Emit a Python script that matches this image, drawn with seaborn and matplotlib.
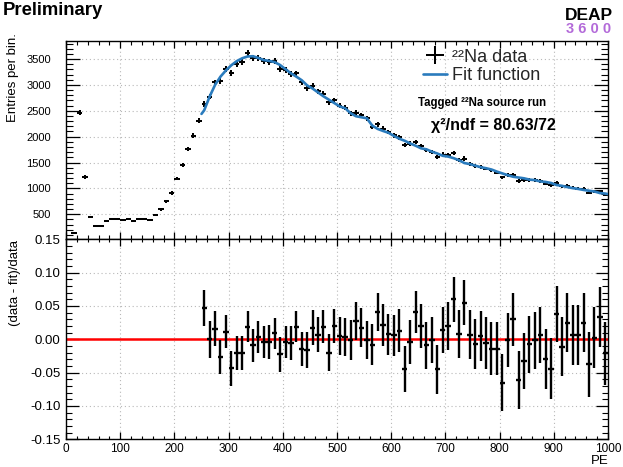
import numpy as np
import seaborn as sns
import matplotlib
matplotlib.use("Agg")
import matplotlib.pyplot as plt
from matplotlib.ticker import MultipleLocator, FormatStrFormatter

# ---------------- data ----------------
pe_centers = np.arange(15, 1000, 10)
counts = [147, 2460, 1220, 451, 268, 268, 362, 402, 405, 384, 405, 364, 416, 416, 398, 480,
          596, 751, 910, 1190, 1458, 1760, 2020, 2305,
          2630, 2776, 3048, 3080, 3316, 3237, 3398, 3444, 3620, 3521, 3525, 3455, 3450, 3470,
          3311, 3290, 3205, 3221, 3047, 2940, 2982, 2874, 2832, 2662, 2704, 2597, 2560, 2452,
          2462, 2416, 2355, 2195, 2242, 2156, 2090, 2027, 1985, 1840, 1865, 1900, 1810, 1740,
          1708, 1603, 1653, 1648, 1686, 1557, 1577, 1480, 1431, 1417, 1383, 1346, 1307, 1211,
          1254, 1263, 1140, 1157, 1161, 1158, 1143, 1093, 1058, 1108, 1039, 1051, 1011, 996,
          995, 920, 942, 940, 881]
count_err = [12, 50, 35, 21, 16, 16, 19, 20, 20, 20, 20, 19, 20, 20, 20, 22,
             24, 27, 30, 34, 38, 42, 45, 48,
             51, 53, 55, 55, 58, 57, 58, 59, 60, 59, 59, 59, 59, 59,
             58, 57, 57, 57, 55, 54, 55, 54, 53, 52, 52, 51, 51, 50,
             50, 49, 49, 47, 47, 46, 46, 45, 45, 43, 43, 44, 43, 42,
             41, 40, 41, 41, 41, 39, 40, 38, 38, 38, 37, 37, 36, 35,
             35, 36, 34, 34, 34, 34, 34, 33, 33, 33, 32, 32, 32, 32,
             32, 30, 31, 31, 30]
bin_half_width = 5

fit_pe = [250] + list(range(255, 1000, 10)) + [1000]
fit_vals = [2440, 2510, 2775, 3000, 3160, 3280, 3380, 3460, 3515, 3550, 3555, 3520, 3480,
            3465, 3440, 3385, 3305, 3225, 3160, 3090, 2990, 2930, 2855, 2780, 2715, 2650,
            2585, 2550, 2455, 2395, 2375, 2355, 2215, 2150, 2110, 2075, 2015, 1960, 1920,
            1870, 1825, 1775, 1755, 1710, 1675, 1630, 1615, 1585, 1545, 1490, 1470, 1440,
            1410, 1390, 1365, 1325, 1290, 1255, 1225, 1210, 1195, 1170, 1160, 1135, 1125,
            1105, 1065, 1050, 1025, 1005, 990, 970, 955, 940, 910, 900, 890]

res_pe = np.arange(255, 1000, 10)
residuals = [0.0465, 0.0, 0.016, -0.0265, 0.0115, -0.0435, -0.02, -0.02, 0.019, -0.009,
             0.0035, -0.004, -0.004, 0.009, -0.0225, -0.004, -0.005, 0.019, -0.014, -0.0165,
             0.0175, 0.007, 0.019, -0.02, 0.02, 0.005,
             0.004, -0.001, 0.0275, 0.0175, -0.001, -0.008, 0.041, 0.0215, 0.0075, 0.006,
             0.013, -0.044, -0.004, 0.041, 0.02, -0.009, -0.001, -0.045, 0.014, 0.02,
             0.06, 0.0075, 0.055, 0.007, -0.0065,
             0.005, -0.005, -0.014, -0.014, -0.065, -0.001, 0.03, -0.061, -0.0325, -0.0075,
             -0.0015, 0.007, -0.029, -0.044, 0.0385, -0.011, 0.025, 0.006, 0.006, 0.025,
             -0.0375, 0.0025, 0.0335, -0.021]
res_err = [0.027, 0.0275, 0.026, 0.026, 0.0245, 0.0265, 0.0255, 0.0255, 0.0235, 0.0245,
           0.0235, 0.0245, 0.025, 0.0235, 0.026, 0.0245, 0.0255, 0.023, 0.0255, 0.027,
           0.026, 0.026, 0.025, 0.028, 0.026, 0.028,
           0.0285, 0.0295, 0.028, 0.029, 0.029, 0.031, 0.029, 0.031, 0.0305, 0.031,
           0.032, 0.0345, 0.0325, 0.031, 0.033, 0.035, 0.034, 0.037, 0.035, 0.0355,
           0.034, 0.036, 0.034, 0.0365, 0.0375,
           0.038, 0.039, 0.040, 0.040, 0.043, 0.040, 0.040, 0.044, 0.0425, 0.0425,
           0.043, 0.042, 0.045, 0.0455, 0.042, 0.0445, 0.044, 0.045, 0.045, 0.044,
           0.049, 0.0455, 0.045, 0.0475]

upper_yticks = [500, 1000, 1500, 2000, 2500, 3000, 3500]
lower_yticks = [-0.15, -0.10, -0.05, 0.00, 0.05, 0.10, 0.15]
x_ticks = [0, 100, 200, 300, 400, 500, 600, 700, 800, 900, 1000]

# ---------------- style ----------------
sns.set_theme(style="ticks")
plt.rcParams['font.family'] = ['Liberation Sans', 'DejaVu Sans']
plt.rcParams['axes.edgecolor'] = 'black'
plt.rcParams['axes.linewidth'] = 1.0

W, H = 623, 467
fig = plt.figure(figsize=(W / 100, H / 100), dpi=100)
fig.patch.set_facecolor('white')

left = 66 / W
width = 542 / W
ax1 = fig.add_axes([left, 1 - 239.3 / H, width, (239.3 - 40.7) / H])
ax2 = fig.add_axes([left, 1 - 439.3 / H, width, (439.3 - 239.3) / H])

grid_kw = dict(linestyle=(0, (1, 2.5)), color='#b8b8b8', linewidth=0.8)

# ---------------- upper panel ----------------
data_cont = ax1.errorbar(pe_centers, counts, xerr=bin_half_width, yerr=count_err,
                         fmt='none', ecolor='black', elinewidth=1.45, capsize=0, zorder=3)
sns.lineplot(x=fit_pe, y=fit_vals, ax=ax1, color='#2a7bbd', linewidth=1.9, zorder=4)
fit_line = ax1.lines[-1]

ax1.set_xlim(0, 1000)
ax1.set_ylim(16, 3855)
ax1.set_xticks(x_ticks)
ax1.set_yticks(upper_yticks)
ax1.xaxis.set_minor_locator(MultipleLocator(20))
ax1.yaxis.set_minor_locator(MultipleLocator(100))
ax1.tick_params(axis='both', which='both', direction='in', top=True, right=True,
                labelbottom=False, colors='black')
ax1.tick_params(axis='y', which='major', length=10, width=0.9, pad=11, labelsize=8)
ax1.tick_params(axis='y', which='minor', length=5, width=0.8)
ax1.tick_params(axis='x', which='major', length=5, width=0.9)
ax1.tick_params(axis='x', which='minor', length=3, width=0.8)
ax1.grid(True, which='major', **grid_kw)
ax1.set_axisbelow(True)

leg = ax1.legend([data_cont, fit_line], ['\u00b2\u00b2Na data', 'Fit function'],
                 loc='upper left', bbox_to_anchor=((423 - 66) / 542, 1 - 8 / 198.6),
                 frameon=False, fontsize=13, handlelength=1.35, handletextpad=0.25,
                 labelspacing=0.08, borderpad=0, borderaxespad=0)

fig.text(482 / W, 1 - 103 / H, 'Tagged \u00b2\u00b2Na source run', ha='center', va='center',
         fontsize=8.3, fontweight='bold', color='black')
fig.text(493 / W, 1 - 125.5 / H, '\u03c7\u00b2/ndf = 80.63/72', ha='center', va='center',
         fontsize=11.5, fontweight='bold', color='black')

# ---------------- lower panel ----------------
ax2.axhline(0, color='#ff0000', linewidth=1.8, zorder=2)
ax2.errorbar(res_pe, residuals, xerr=bin_half_width, yerr=res_err,
             fmt='none', ecolor='black', elinewidth=1.7, capsize=0, zorder=3)
ax2.set_xlim(0, 1000)
ax2.set_ylim(-0.15, 0.15)
ax2.set_xticks(x_ticks)
ax2.set_yticks(lower_yticks)
ax2.yaxis.set_major_formatter(FormatStrFormatter('%.2f'))
ax2.xaxis.set_minor_locator(MultipleLocator(20))
ax2.yaxis.set_minor_locator(MultipleLocator(0.01))
ax2.tick_params(axis='both', which='both', direction='in', top=True, right=True,
                colors='black')
ax2.tick_params(axis='y', which='major', length=9, width=0.9, pad=4, labelsize=9.5)
ax2.tick_params(axis='y', which='minor', length=4.5, width=0.8)
ax2.tick_params(axis='x', which='major', length=5, width=0.9, pad=3, labelsize=8.5)
ax2.tick_params(axis='x', which='minor', length=2.5, width=0.8)
ax2.grid(True, which='major', **grid_kw)
ax2.set_axisbelow(True)

# ---------------- labels and texts ----------------
fig.text(13 / W, 1 - 33 / H, 'Entries per bin.', rotation=90, ha='center', va='top',
         fontsize=9.5, color='black')
fig.text(15 / W, 1 - 240 / H, '(data - fit)/data', rotation=90, ha='center', va='top',
         fontsize=9.5, color='black')
fig.text(600 / W, 1 - 461 / H, 'PE', ha='center', va='center', fontsize=9.5, color='black')
fig.text(3 / W, 1 - 2 / H, 'Preliminary', ha='left', va='top', fontsize=13.3,
         fontweight='bold', color='black')
fig.text(588.5 / W, 1 - 15.3 / H, 'DEAP', ha='center', va='center', fontsize=12.5,
         fontweight='bold', color='black')
fig.text(589 / W, 1 - 29 / H, '3 6 0 0', ha='center', va='center', fontsize=10.5,
         fontweight='bold', color='#b36ad9')

fig.savefig('out.png', dpi=100, facecolor='white')
